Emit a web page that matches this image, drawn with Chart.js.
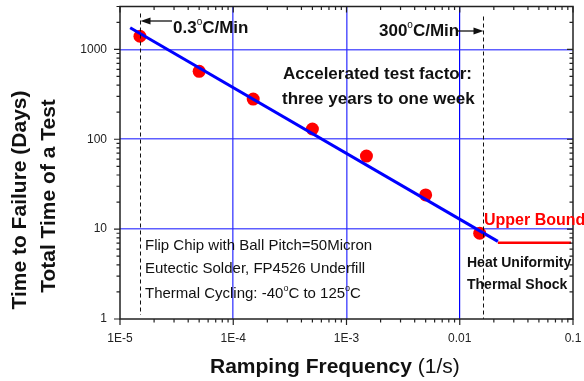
<!DOCTYPE html>
<html>
<head>
<meta charset="utf-8">
<script src="https://cdn.jsdelivr.net/npm/chart.js@4.4.0/dist/chart.umd.min.js"></script>
<style>
  html, body { margin: 0; padding: 0; background: #fff; }
  canvas { display: block; }
</style>
</head>
<body>
<canvas id="chart" width="584" height="381"></canvas>
<script>
// measured points (ramping frequency 1/s, days)
const rampFreq = [1.5e-5, 5e-5, 1.5e-4, 5e-4, 1.5e-3, 5e-3, 1.5e-2];
const timeToFail = [1400, 570, 280, 130, 65, 24, 9];
// fitted trend line, two ends
const fitFreq = [1.23e-5, 0.0217];
const fitTime = [1740, 7.3];
// upper bound segment
const boundFreq = [0.0217, 0.096];
const boundTime = [7.05, 7.05];
// dashed markers for 0.3 C/min and 300 C/min
const markerFreq = [1.5e-5, 0.016];

const xTickValues = [1e-5, 1e-4, 1e-3, 1e-2, 1e-1];
const xTickLabels = ['1E-5', '1E-4', '1E-3', '0.01', '0.1'];
const yTickValues = [1, 10, 100, 1000];
const yTickLabels = ['1', '10', '100', '1000'];

const FONT = "'Liberation Sans', Arial, sans-serif";

function logTicks(min, max) {
  const out = [];
  for (let e = Math.floor(Math.log10(min)); e <= Math.ceil(Math.log10(max)); e++) {
    for (let m = 1; m < 10; m++) {
      const v = Number((m * Math.pow(10, e)).toPrecision(6));
      if (v >= min * 0.999 && v <= max * 1.001) out.push(v);
    }
  }
  return out;
}
function findIdx(list, v) {
  return list.findIndex(t => Math.abs(t - v) / t < 1e-6);
}

function gridColor(list) {
  return c => {
    if (!c.tick) return 'rgba(0,0,0,0)';
    const i = findIdx(list, c.tick.value);
    if (i <= 0 || i >= list.length - (list === xTickValues ? 1 : 0)) return 'rgba(0,0,0,0)';
    if (list === xTickValues && i === 3) return '#0000ff';
    return 'rgba(40,40,255,0.75)';
  };
}

function richText(ctx, parts, x, y) {
  let cx = x;
  parts.forEach(p => {
    ctx.font = p[1];
    ctx.fillText(p[0], cx, y - (p[2] || 0));
    cx += ctx.measureText(p[0]).width;
  });
}

function arrow(ctx, x1, x2, y) {
  const dir = x2 > x1 ? 1 : -1;
  ctx.beginPath();
  ctx.moveTo(x1, y);
  ctx.lineTo(x2 - dir * 6, y);
  ctx.stroke();
  ctx.beginPath();
  ctx.moveTo(x2, y);
  ctx.lineTo(x2 - dir * 10, y - 3.5);
  ctx.lineTo(x2 - dir * 10, y + 3.5);
  ctx.closePath();
  ctx.fill();
}

const decorPlugin = {
  id: 'decor',
  afterDatasetsDraw(chart) {
    const ctx = chart.ctx;
    const a = chart.chartArea;
    const xs = chart.scales.x, ys = chart.scales.y;
    ctx.save();

    // dashed markers
    ctx.strokeStyle = '#111';
    ctx.lineWidth = 1;
    ctx.setLineDash([4, 3]);
    let mx1 = Math.round(xs.getPixelForValue(markerFreq[0])) + 0.5;
    let mx2 = Math.round(xs.getPixelForValue(markerFreq[1])) + 0.5;
    ctx.beginPath();
    ctx.moveTo(mx1, a.top + 7); ctx.lineTo(mx1, a.bottom - 4);
    ctx.moveTo(mx2, a.top + 10); ctx.lineTo(mx2, a.bottom);
    ctx.stroke();
    ctx.setLineDash([]);

    // arrows
    ctx.fillStyle = '#111';
    ctx.lineWidth = 1.3;
    arrow(ctx, 172, mx1, 21);
    arrow(ctx, 458, mx2, 31);

    // frame
    ctx.strokeStyle = '#222';
    ctx.lineWidth = 1.5;
    ctx.strokeRect(a.left, a.top, a.right - a.left, a.bottom - a.top);

    // tick marks: outside on left/bottom, inside on top/right
    ctx.lineWidth = 1.2;
    ctx.beginPath();
    logTicks(xs.min, xs.max).forEach(v => {
      const px = xs.getPixelForValue(v);
      const len = findIdx(xTickValues, v) >= 0 ? 6 : 3.5;
      ctx.moveTo(px, a.bottom); ctx.lineTo(px, a.bottom + len);
      ctx.moveTo(px, a.top); ctx.lineTo(px, a.top + len);
    });
    logTicks(ys.min, ys.max).forEach(v => {
      const py = ys.getPixelForValue(v);
      const len = findIdx(yTickValues, v) >= 0 ? 6 : 3.5;
      ctx.moveTo(a.left, py); ctx.lineTo(a.left - len, py);
      ctx.moveTo(a.right, py); ctx.lineTo(a.right - len, py);
    });
    ctx.stroke();

    // annotations
    ctx.fillStyle = '#111';
    ctx.textAlign = 'left';
    ctx.textBaseline = 'alphabetic';
    const b17 = 'bold 17px ' + FONT;
    const sup = '10px ' + FONT;
    richText(ctx, [['0.3', b17], ['o', sup, 8], ['C/Min', b17]], 173, 33);
    richText(ctx, [['300', b17], ['o', sup, 8], ['C/Min', b17]], 379, 36);
    ctx.font = b17;
    ctx.fillText('Accelerated test factor:', 283, 79);
    ctx.fillText('three years to one week', 282, 104);

    ctx.fillStyle = '#ff0000';
    ctx.font = 'bold 16px ' + FONT;
    ctx.fillText('Upper Bound', 484, 225);

    ctx.fillStyle = '#111';
    ctx.font = 'bold 14px ' + FONT;
    ctx.fillText('Heat Uniformity', 467, 267);
    ctx.fillText('Thermal Shock', 467, 289);

    const r15 = '15px ' + FONT;
    const s9 = '9px ' + FONT;
    ctx.font = r15;
    ctx.fillText('Flip Chip with Ball Pitch=50Micron', 145, 250);
    ctx.fillText('Eutectic Solder, FP4526 Underfill', 145, 273);
    richText(ctx, [['Thermal Cycling: -40', r15], ['o', s9, 7], ['C to 125', r15], ['o', s9, 7], ['C', r15]], 145, 298);

    // axis titles
    const b21 = 'bold 21px ' + FONT;
    richText(ctx, [['Ramping Frequency', b21], [' (1/s)', '21px ' + FONT]], 210, 373);

    ctx.font = b21;
    ctx.textAlign = 'center';
    ctx.save();
    ctx.translate(26, 200);
    ctx.rotate(-Math.PI / 2);
    ctx.fillText('Time to Failure (Days)', 0, 0);
    ctx.restore();
    ctx.save();
    ctx.translate(55, 196);
    ctx.rotate(-Math.PI / 2);
    ctx.fillText('Total Time of a Test', 0, 0);
    ctx.restore();

    ctx.restore();
  }
};

new Chart(document.getElementById('chart'), {
  type: 'scatter',
  data: {
    datasets: [
      {
        data: fitFreq.map((x, i) => ({ x: x, y: fitTime[i] })),
        showLine: true,
        borderColor: '#0000ff',
        borderWidth: 3,
        pointRadius: 0,
        order: 0
      },
      {
        data: boundFreq.map((x, i) => ({ x: x, y: boundTime[i] })),
        showLine: true,
        borderColor: '#ff0000',
        borderWidth: 2.5,
        pointRadius: 0,
        order: 1
      },
      {
        data: rampFreq.map((x, i) => ({ x: x, y: timeToFail[i] })),
        backgroundColor: '#ff0000',
        borderWidth: 0,
        pointRadius: 6.5,
        order: 2
      }
    ]
  },
  options: {
    responsive: false,
    animation: false,
    devicePixelRatio: 1,
    layout: { padding: { top: 5, right: 11, left: 0, bottom: 0 } },
    plugins: { legend: { display: false }, tooltip: { enabled: false } },
    scales: {
      x: {
        type: 'logarithmic',
        min: 1e-5,
        max: 0.1,
        afterBuildTicks: s => { s.ticks = logTicks(s.min, s.max).map(v => ({ value: v })); },
        afterFit: s => { s.height = 62; s.paddingLeft = 0; s.paddingRight = 0; },
        border: { display: false },
        grid: { drawTicks: false, color: gridColor(xTickValues), lineWidth: c => (c.tick && findIdx(xTickValues, c.tick.value) === 3) ? 1.2 : 1.6 },
        ticks: {
          autoSkip: false, maxRotation: 0, padding: 12, color: '#222',
          font: { family: FONT, size: 12 },
          callback: v => { const i = findIdx(xTickValues, v); return i < 0 ? '' : xTickLabels[i]; }
        }
      },
      y: {
        type: 'logarithmic',
        min: 1,
        max: 3000,
        afterBuildTicks: s => { s.ticks = logTicks(s.min, s.max).map(v => ({ value: v })); },
        afterFit: s => { s.width = 120; s.paddingTop = 0; s.paddingBottom = 0; },
        border: { display: false },
        grid: { drawTicks: false, color: gridColor(yTickValues), lineWidth: 1.6 },
        ticks: {
          autoSkip: false, padding: 13, color: '#222',
          font: { family: FONT, size: 12 },
          callback: v => { const i = findIdx(yTickValues, v); return i < 0 ? '' : yTickLabels[i]; }
        }
      }
    }
  },
  plugins: [decorPlugin]
});
</script>
</body>
</html>
